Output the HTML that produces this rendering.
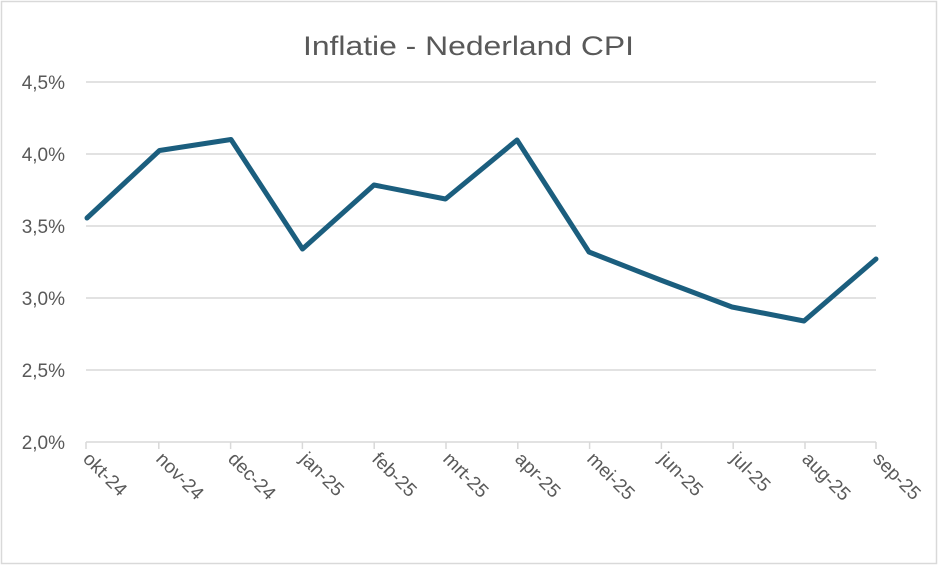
<!DOCTYPE html>
<html><head><style>html,body{margin:0;padding:0;background:#fff}</style></head>
<body>
<svg width="939" height="566" xmlns="http://www.w3.org/2000/svg" font-family="Liberation Sans, sans-serif">
<rect x="1.5" y="1.5" width="935" height="562" fill="#fff" stroke="#d9d9d9" stroke-width="1.5"/>
<text x="468.5" y="55" text-anchor="middle" font-size="27" fill="#595959" textLength="331" lengthAdjust="spacingAndGlyphs">Inflatie - Nederland CPI</text>
<g stroke="#d9d9d9" stroke-width="1.5">
<line x1="86" y1="82" x2="876" y2="82"/>
<line x1="86" y1="154" x2="876" y2="154"/>
<line x1="86" y1="226" x2="876" y2="226"/>
<line x1="86" y1="298" x2="876" y2="298"/>
<line x1="86" y1="370" x2="876" y2="370"/>
<line x1="86" y1="442" x2="876" y2="442"/>
<line x1="86" y1="442" x2="86" y2="449"/><line x1="158.8" y1="442" x2="158.8" y2="449"/><line x1="230.6" y1="442" x2="230.6" y2="449"/><line x1="302.4" y1="442" x2="302.4" y2="449"/><line x1="374.2" y1="442" x2="374.2" y2="449"/><line x1="446" y1="442" x2="446" y2="449"/><line x1="517.8" y1="442" x2="517.8" y2="449"/><line x1="589.6" y1="442" x2="589.6" y2="449"/><line x1="661.4" y1="442" x2="661.4" y2="449"/><line x1="733.2" y1="442" x2="733.2" y2="449"/><line x1="805" y1="442" x2="805" y2="449"/><line x1="876" y1="442" x2="876" y2="449"/>
</g>
<g font-size="19" fill="#595959" text-anchor="end">
<text x="65" y="89">4,5%</text><text x="65" y="161">4,0%</text><text x="65" y="233">3,5%</text><text x="65" y="305">3,0%</text><text x="65" y="377">2,5%</text><text x="65" y="449">2,0%</text>
</g>
<g font-size="19" fill="#595959">
<text transform="translate(82,460) rotate(45)">okt-24</text>
<text transform="translate(155,460) rotate(45)">nov-24</text>
<text transform="translate(227,460) rotate(45)">dec-24</text>
<text transform="translate(299,460) rotate(45)">jan-25</text>
<text transform="translate(371,460) rotate(45)">feb-25</text>
<text transform="translate(442,460) rotate(45)">mrt-25</text>
<text transform="translate(514,460) rotate(45)">apr-25</text>
<text transform="translate(586,460) rotate(45)">mei-25</text>
<text transform="translate(658,460) rotate(45)">jun-25</text>
<text transform="translate(730,460) rotate(45)">jul-25</text>
<text transform="translate(801,460) rotate(45)">aug-25</text>
<text transform="translate(872,460) rotate(45)">sep-25</text>
</g>
<polyline fill="none" stroke="#1b5e7e" stroke-width="5" stroke-linejoin="round" stroke-linecap="round"
points="87,218 159.5,150.5 231,139.5 302.5,249 374,185 445.5,199 517,140 589,252 660.5,280 732,307 804,321 876,259"/>
</svg>
</body></html>
